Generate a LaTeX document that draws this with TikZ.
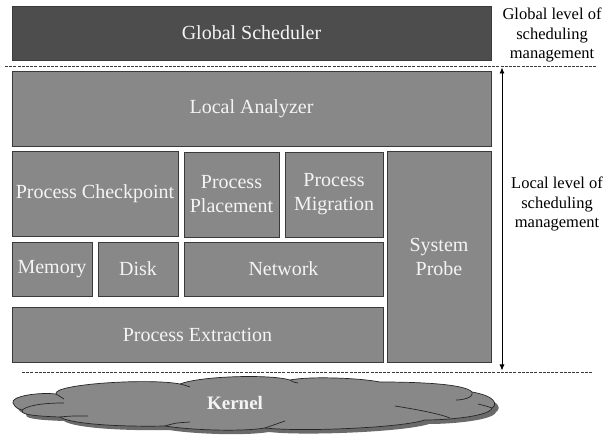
\documentclass[tikz,border=0pt]{standalone}
\usepackage{fontspec}
\setmainfont{Liberation Serif}
\usetikzlibrary{arrows.meta}
\definecolor{boxgray}{HTML}{888888}
\definecolor{darkbox}{HTML}{4D4D4D}
\definecolor{edgegray}{HTML}{3A3A3A}
\definecolor{txtwhite}{HTML}{F4F4F4}
\definecolor{shadowgray}{HTML}{6A6A6A}
\begin{document}
\begin{tikzpicture}[x=1pt,y=1pt,
  blk/.style={draw=edgegray, line width=0.8pt, fill=boxgray, text=txtwhite,
    inner sep=0pt, align=center,
    font=\fontsize{20}{24}\selectfont},
  sidelabel/.style={align=center, text=black, font=\fontsize{16.5}{19.6}\selectfont},
  sepline/.style={draw=edgegray, line width=0.8pt, dash pattern=on 3pt off 1.2pt},
  cloudedge/.style={draw=black!85, line width=0.7pt}]
\useasboundingbox (0,0) rectangle (605,436);

% blocks
\node[blk, fill=darkbox, minimum width=479, minimum height=54] (gs) at (251.5,403) {Global Scheduler};
\node[blk, minimum width=479, minimum height=75] (la) at (251.5,327.5) {Local Analyzer};
\node[blk, minimum width=166, minimum height=85] (pc) at (95,242.5) {Process Checkpoint};
\node[blk, minimum width=95, minimum height=85] (pp) at (231.5,241.5) {Process\\Placement};
\node[blk, minimum width=98, minimum height=85] (pm) at (334,241.5) {Process\\Migration};
\node[blk, minimum width=104, minimum height=211] (sp) at (439,179.5) {System\\Probe};
\node[blk, minimum width=80, minimum height=54] (mem) at (52,167) {Memory};
\node[blk, minimum width=80, minimum height=54] (disk) at (138,167) {Disk};
\node[blk, minimum width=199, minimum height=54] (net) at (283.5,167) {Network};
\node[blk, minimum width=371, minimum height=55] (pe) at (197.5,101.5) {Process Extraction};

% separator lines
\coordinate (d1a) at (5,370);
\coordinate (d1b) at (597,370);
\coordinate (d2a) at (22,64);
\coordinate (d2b) at (592,64);
\draw[sepline] (d1a) -- (d1b);
\draw[sepline] (d2a) -- (d2b);

% arrow
\coordinate (at) at (502,368.5);
\coordinate (ab) at (502,65.5);
\draw[line width=0.8pt, {Latex[length=6pt,width=5pt]}-{Latex[length=6pt,width=5pt]}] (at) -- (ab);

% side labels
\node[sidelabel] (gl) at (552,401) {Global level of\\scheduling\\management};
\node[sidelabel] (ll) at (557,232) {Local level of\\scheduling\\management};

% cloud shadow
\begin{scope}[shift={(4,-4)}]
\fill[shadowgray] (13,33)
  .. controls (10,40) and (40,44) .. (56,42)
  .. controls (52,52) and (150,58) .. (180,52)
  .. controls (200,60) and (270,62) .. (290,56)
  .. controls (310,60) and (360,58) .. (380,54)
  .. controls (420,54) and (465,52) .. (472,44)
  .. controls (495,40) and (498,32) .. (492,28)
  .. controls (490,20) and (450,16) .. (425,16)
  .. controls (400,8) and (300,4) .. (265,8)
  .. controls (240,4) and (190,6) .. (165,10)
  .. controls (120,9) and (70,12) .. (60,19)
  .. controls (30,20) and (20,22) .. (22,26)
  .. controls (16,28) .. (13,33) -- cycle;
\end{scope}
% cloud
\draw[cloudedge, fill=boxgray] (13,33)
  .. controls (10,40) and (40,44) .. (56,42)
  .. controls (52,52) and (150,58) .. (180,52)
  .. controls (200,60) and (270,62) .. (290,56)
  .. controls (310,60) and (360,58) .. (380,54)
  .. controls (420,54) and (465,52) .. (472,44)
  .. controls (495,40) and (498,32) .. (492,28)
  .. controls (490,20) and (450,16) .. (425,16)
  .. controls (400,8) and (300,4) .. (265,8)
  .. controls (240,4) and (190,6) .. (165,10)
  .. controls (120,9) and (70,12) .. (60,19)
  .. controls (30,20) and (20,22) .. (22,26)
  .. controls (16,28) .. (13,33) -- cycle;
% inner cloud strokes
\draw[cloudedge] (56,42) .. controls (60,40) .. (64,37);
\draw[cloudedge] (180,52) .. controls (184,51) .. (190,49);
\draw[cloudedge] (290,56) .. controls (293,54) .. (298,53);
\draw[cloudedge] (22,26) .. controls (30,32) and (50,33) .. (64,33);
\draw[cloudedge] (60,19) .. controls (70,20) .. (88,20);
\draw[cloudedge] (165,10) .. controls (175,13) .. (190,14);
\draw[cloudedge] (265,8) .. controls (275,12) .. (285,15);
\draw[cloudedge] (395,30) .. controls (420,26) and (440,22) .. (450,18);
\draw[cloudedge] (472,44) .. controls (474,38) and (462,36) .. (456,36);
\draw[cloudedge] (492,28) .. controls (486,30) .. (478,32);
\node[text=txtwhite, font=\fontsize{19}{22}\selectfont\bfseries] (kernel) at (235,33) {Kernel};
\end{tikzpicture}
\end{document}
